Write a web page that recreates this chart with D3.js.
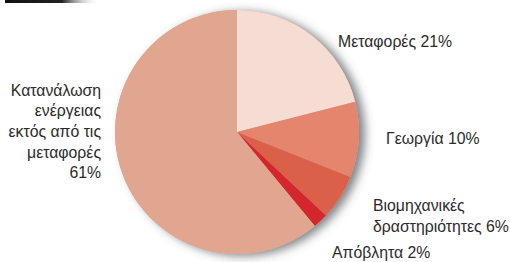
<!DOCTYPE html>
<html>
<head>
<meta charset="utf-8">
<script src="https://cdn.jsdelivr.net/npm/d3@7"></script>
<style>
  body { margin: 0; background: #fff; }
  svg { display: block; }
  text { font-family: "Liberation Sans", Arial, sans-serif; font-size: 15.8px; fill: #2b2b2b; }
</style>
</head>
<body>
<script>
// data
var categories = ["Μεταφορές", "Γεωργία", "Βιομηχανικές δραστηριότητες", "Απόβλητα", "Κατανάλωση ενέργειας εκτός από τις μεταφορές"];
var values = [21, 10, 6, 2, 61];
var labelLines = [
    ["Μεταφορές 21%"],
    ["Γεωργία 10%"],
    ["Βιομηχανικές", "δραστηριότητες 6%"],
    ["Απόβλητα 2%"],
    ["Κατανάλωση", "ενέργειας", "εκτός από τις", "μεταφορές", "61%"]
];

var w = 510, h = 262;
var cx = 237, cy = 132, r = 122;

var svg = d3.select("body").append("svg")
    .attr("width", w)
    .attr("height", h);

var defs = svg.append("defs");

var filter = defs.append("filter")
    .attr("id", "shadow")
    .attr("x", "-20%").attr("y", "-20%")
    .attr("width", "140%").attr("height", "140%");
filter.append("feDropShadow")
    .attr("dx", 6).attr("dy", 2)
    .attr("stdDeviation", 5)
    .attr("flood-color", "#4a4f55")
    .attr("flood-opacity", 0.7);

var grad = defs.append("linearGradient").attr("id", "tab");
grad.append("stop").attr("offset", "0%").attr("stop-color", "#111");
grad.append("stop").attr("offset", "60%").attr("stop-color", "#222");
grad.append("stop").attr("offset", "100%").attr("stop-color", "#fff").attr("stop-opacity", 0);

// dark tab at the top left
svg.append("rect")
    .attr("x", 5).attr("y", 0)
    .attr("width", 95).attr("height", 3)
    .attr("fill", "url(#tab)");

var color = d3.scaleOrdinal()
    .domain(categories)
    .range(["#f6ddd3", "#e3866d", "#da604a", "#d4262d", "#e1a68f"]);

var pie = d3.pie().sort(null).value(function(d) { return d; });
var arc = d3.arc().innerRadius(0).outerRadius(r);

var g = svg.append("g")
    .attr("transform", "translate(" + cx + "," + cy + ")");

var shadowG = g.append("g").attr("filter", "url(#shadow)");
shadowG.append("circle").attr("r", r).attr("fill", "#e1a68f");

g.selectAll("path")
    .data(pie(values))
    .enter()
    .append("path")
    .attr("d", arc)
    .attr("fill", function(d, i) { return color(categories[i]); });

// label placement
var labelPos = [
    { x: 338, y: 47, anchor: "start", lh: 21 },
    { x: 386, y: 144, anchor: "start", lh: 21 },
    { x: 373, y: 211, anchor: "start", lh: 21 },
    { x: 332, y: 258, anchor: "start", lh: 21 },
    { x: 101, y: 95.5, anchor: "end", lh: 20.7 }
];

svg.selectAll("text.lbl")
    .data(labelLines)
    .enter()
    .append("text")
    .attr("class", "lbl")
    .attr("text-anchor", function(d, i) { return labelPos[i].anchor; })
    .attr("x", function(d, i) { return labelPos[i].x; })
    .attr("y", function(d, i) { return labelPos[i].y; })
    .each(function(lines, i) {
        var t = d3.select(this);
        lines.forEach(function(line, j) {
            t.append("tspan")
                .attr("x", labelPos[i].x)
                .attr("dy", j === 0 ? 0 : labelPos[i].lh)
                .text(line);
        });
    });
</script>
</body>
</html>
